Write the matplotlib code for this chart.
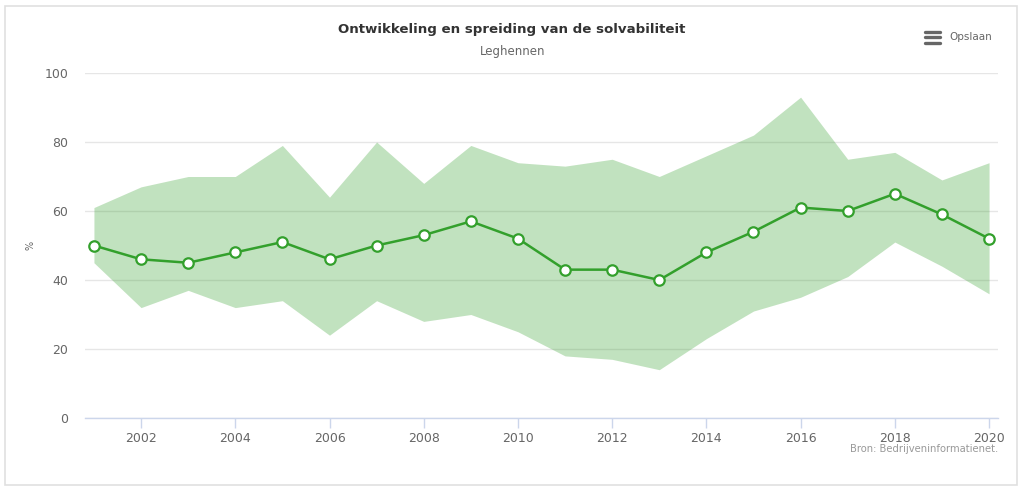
import matplotlib
matplotlib.use("Agg")
import matplotlib.pyplot as plt
from matplotlib.patches import Rectangle
from matplotlib.lines import Line2D

years = list(range(2001, 2021))
median = [50, 46, 45, 48, 51, 46, 50, 53, 57, 52, 43, 43, 40, 48, 54, 61, 60, 65, 59, 52]
upper = [61, 67, 70, 70, 79, 64, 80, 68, 79, 74, 73, 75, 70, 76, 82, 93, 75, 77, 69, 74]
lower = [45, 32, 37, 32, 34, 24, 34, 28, 30, 25, 18, 17, 14, 23, 31, 35, 41, 51, 44, 36]
xticks = list(range(2002, 2021, 2))
yticks = [0, 20, 40, 60, 80, 100]

title = "Ontwikkeling en spreiding van de solvabiliteit"
subtitle = "Leghennen"
credit = "Bron: Bedrijveninformatienet."

plt.rcParams['font.family'] = ['DejaVu Sans']
W, H = 1024, 493
fig = plt.figure(figsize=(W / 100, H / 100), dpi=100)

def fx(px):
    return px / W

def fy(py):
    return 1 - py / H

ax = fig.add_axes([fx(85), fy(418), fx(998) - fx(85), fy(73) - fy(418)])
green = '#33a02c'
ax.fill_between(years, lower, upper, color=green, alpha=0.3, linewidth=0, zorder=2)
ax.plot(years, median, color=green, linewidth=1.8, marker='o', markersize=7.5,
        markerfacecolor='white', markeredgecolor=green, markeredgewidth=1.6, zorder=3)

ax.set_xlim(2000.81, 2020.19)
ax.set_ylim(0, 100)
ax.set_yticks(yticks)
ax.set_xticks(xticks)
ax.grid(axis='y', color='#e6e6e6', linewidth=1, zorder=0)
ax.set_axisbelow(True)
for s in ['top', 'right', 'left']:
    ax.spines[s].set_visible(False)
ax.spines['bottom'].set_color('#ccd6eb')
ax.spines['bottom'].set_linewidth(1)
ax.spines['bottom'].set_zorder(4)
ax.tick_params(axis='y', length=0, pad=12, labelsize=9, labelcolor='#666666')
ax.tick_params(axis='x', length=7, width=1, color='#ccd6eb', pad=3, labelsize=9,
               labelcolor='#666666', direction='out')

fig.text(fx(511.5), fy(30), title, ha='center', va='center', fontsize=9.6,
         fontweight='bold', color='#333333')
fig.text(fx(513), fy(51), subtitle, ha='center', va='center', fontsize=8.5,
         color='#666666')
fig.text(fx(31), fy(245), '%', ha='center', va='center', rotation=90,
         fontsize=7, color='#666666')
fig.text(fx(998), fy(449), credit, ha='right', va='center', fontsize=7.2,
         color='#999999')
fig.text(fx(949), fy(37), 'Opslaan', ha='left', va='center', fontsize=7.5,
         color='#666666')
for py in [31.7, 37.3, 43.0]:
    fig.add_artist(Line2D([fx(925), fx(940)], [fy(py), fy(py)], color='#666666',
                          linewidth=2.4, solid_capstyle='round'))

fig.add_artist(Rectangle((fx(5), fy(485)), fx(1017) - fx(5), fy(6) - fy(485),
                         fill=False, edgecolor='#e0e0e0', linewidth=1.2))

fig.savefig('out.png', dpi=100)
